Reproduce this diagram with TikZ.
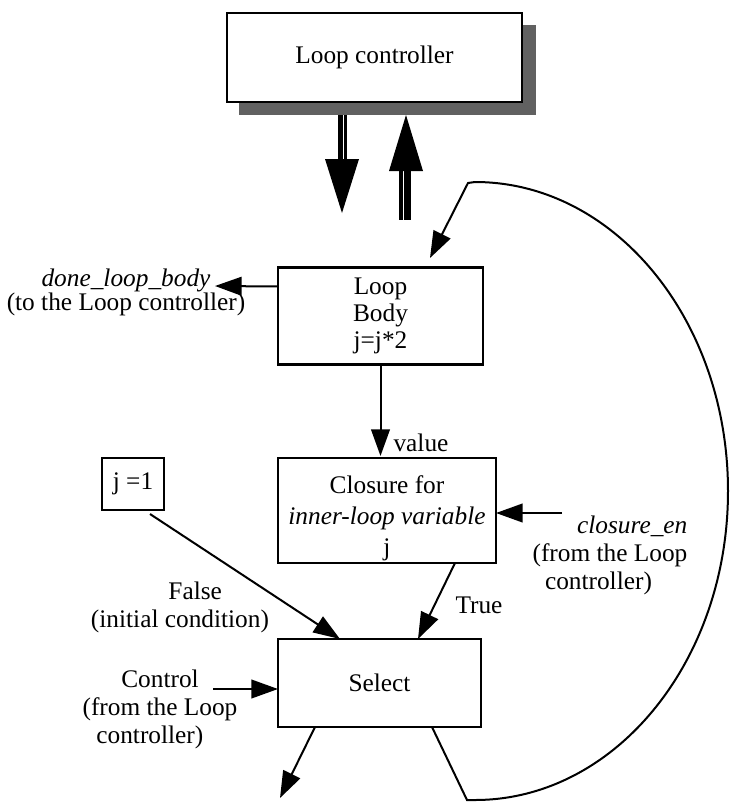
\documentclass[tikz,border=0pt]{standalone}
\usepackage{fontspec}
\setmainfont{Liberation Serif}
\usetikzlibrary{arrows.meta,calc}
\newcommand{\pxu}{0.75pt}
% lower a centred stack of lines without changing the space it claims
\newcommand{\lowerlines}[2]{\raisebox{-#1}[\height][\depth]{\begin{tabular}{@{}c@{}}#2\end{tabular}}}
\begin{document}
\begin{tikzpicture}[x=0.75pt,y=-0.75pt,
  every node/.style={inner sep=0pt, outer sep=0pt},
  lbl/.style={align=center, font=\fontsize{19}{20}\selectfont},
  box/.style={draw, line width=1.8pt, rectangle, fill=white, align=center,
    font=\fontsize{19}{20}\selectfont},
  conn/.style={line width=1.5pt, -{Triangle[length=20pt,width=14pt]}},
  shadowfill/.style={fill=black!62},
]
\useasboundingbox (0,0) rectangle (729,804);

% controller with its drop shadow
\fill[shadowfill] (239,25) rectangle (536,115);
\node[box, minimum width=295*\pxu, minimum height=89*\pxu] (ctrl) at (374.5,57.5) {Loop controller};

% the two wide double-line arrows under the controller
\fill (338,115) rectangle (347,160);
\draw[white, line width=1.1pt] (343.5,115) -- (343.5,160);
\fill (325,159) -- (359,159) -- (342,213) -- cycle;
\fill (399,170) rectangle (411,220);
\draw[white, line width=1.1pt] (403.5,170) -- (403.5,220);
\fill (389,171) -- (423,171) -- (406,115) -- cycle;

% boxes
\node[box, minimum width=205*\pxu, minimum height=97*\pxu] (body) at (380.5,316) {Loop\\Body\\j=j*2};
\node[box, minimum width=218*\pxu, minimum height=105*\pxu, font=\fontsize{19}{23}\selectfont] (clos) at (387,510.5) {\lowerlines{6pt}{Closure for\\\textit{inner-loop variable}\\j}};
\node[box, minimum width=62*\pxu, minimum height=52*\pxu] (jone) at (133,484) {j =1};
\node[box, minimum width=203*\pxu, minimum height=88*\pxu] (sel) at (379.5,683) {Select};

% labels
\node[lbl, font=\fontsize{19}{18}\selectfont] (done) at (126,292) {\textit{done\_loop\_body}\\(to the Loop controller)};
\node[lbl] (val) at (421,443) {value};
\node[lbl, font=\fontsize{19}{21}\selectfont, align=right] (cen) at (610,555) {\textit{closure\_en}\\(from the Loop\\controller)\hspace*{1.4em}};
\node[lbl] (tru) at (479,605) {True};
\node[lbl, font=\fontsize{19}{21}\selectfont] (fal) at (180,607) {\hspace*{1.2em}False\\(initial condition)};
\node[lbl, font=\fontsize{19}{21}\selectfont] (ctl) at (160,709) {Control\\(from the Loop\\controller)\hspace*{0.8em}};

% connectors
\coordinate (doneend) at (215,286);
\draw[conn] ($(body.north west)+(0,19)$) -- (doneend);
\draw[conn] (body.south) -- ($(body.south |- clos.north)+(0,-2)$);
\coordinate (censtart) at (562,513);
\draw[conn] (censtart) -- (clos.east |- censtart);
\draw[conn] ($(clos.south west)+(177,0)$) -- ($(sel.north west)+(140,0)$);
\draw[conn] ($(jone.south east)+(-14,4)$) -- ($(sel.north west)+(62,0)$);
\coordinate (ctlstart) at (213,689);
\draw[conn] (ctlstart) -- (sel.west |- ctlstart);
\coordinate (outend) at (280,798);
\draw[conn] ($(sel.south west)+(37,0)$) -- (outend);

% feedback loop from Select back into the loop body
\coordinate (looptip) at (430,258);
\draw[conn] ($(sel.south west)+(154,0)$) -- (467,800) -- (475,800)
  arc[start angle=90, end angle=-90, x radius=253, y radius=309]
  -- (468,183) -- (looptip);
\end{tikzpicture}
\end{document}
